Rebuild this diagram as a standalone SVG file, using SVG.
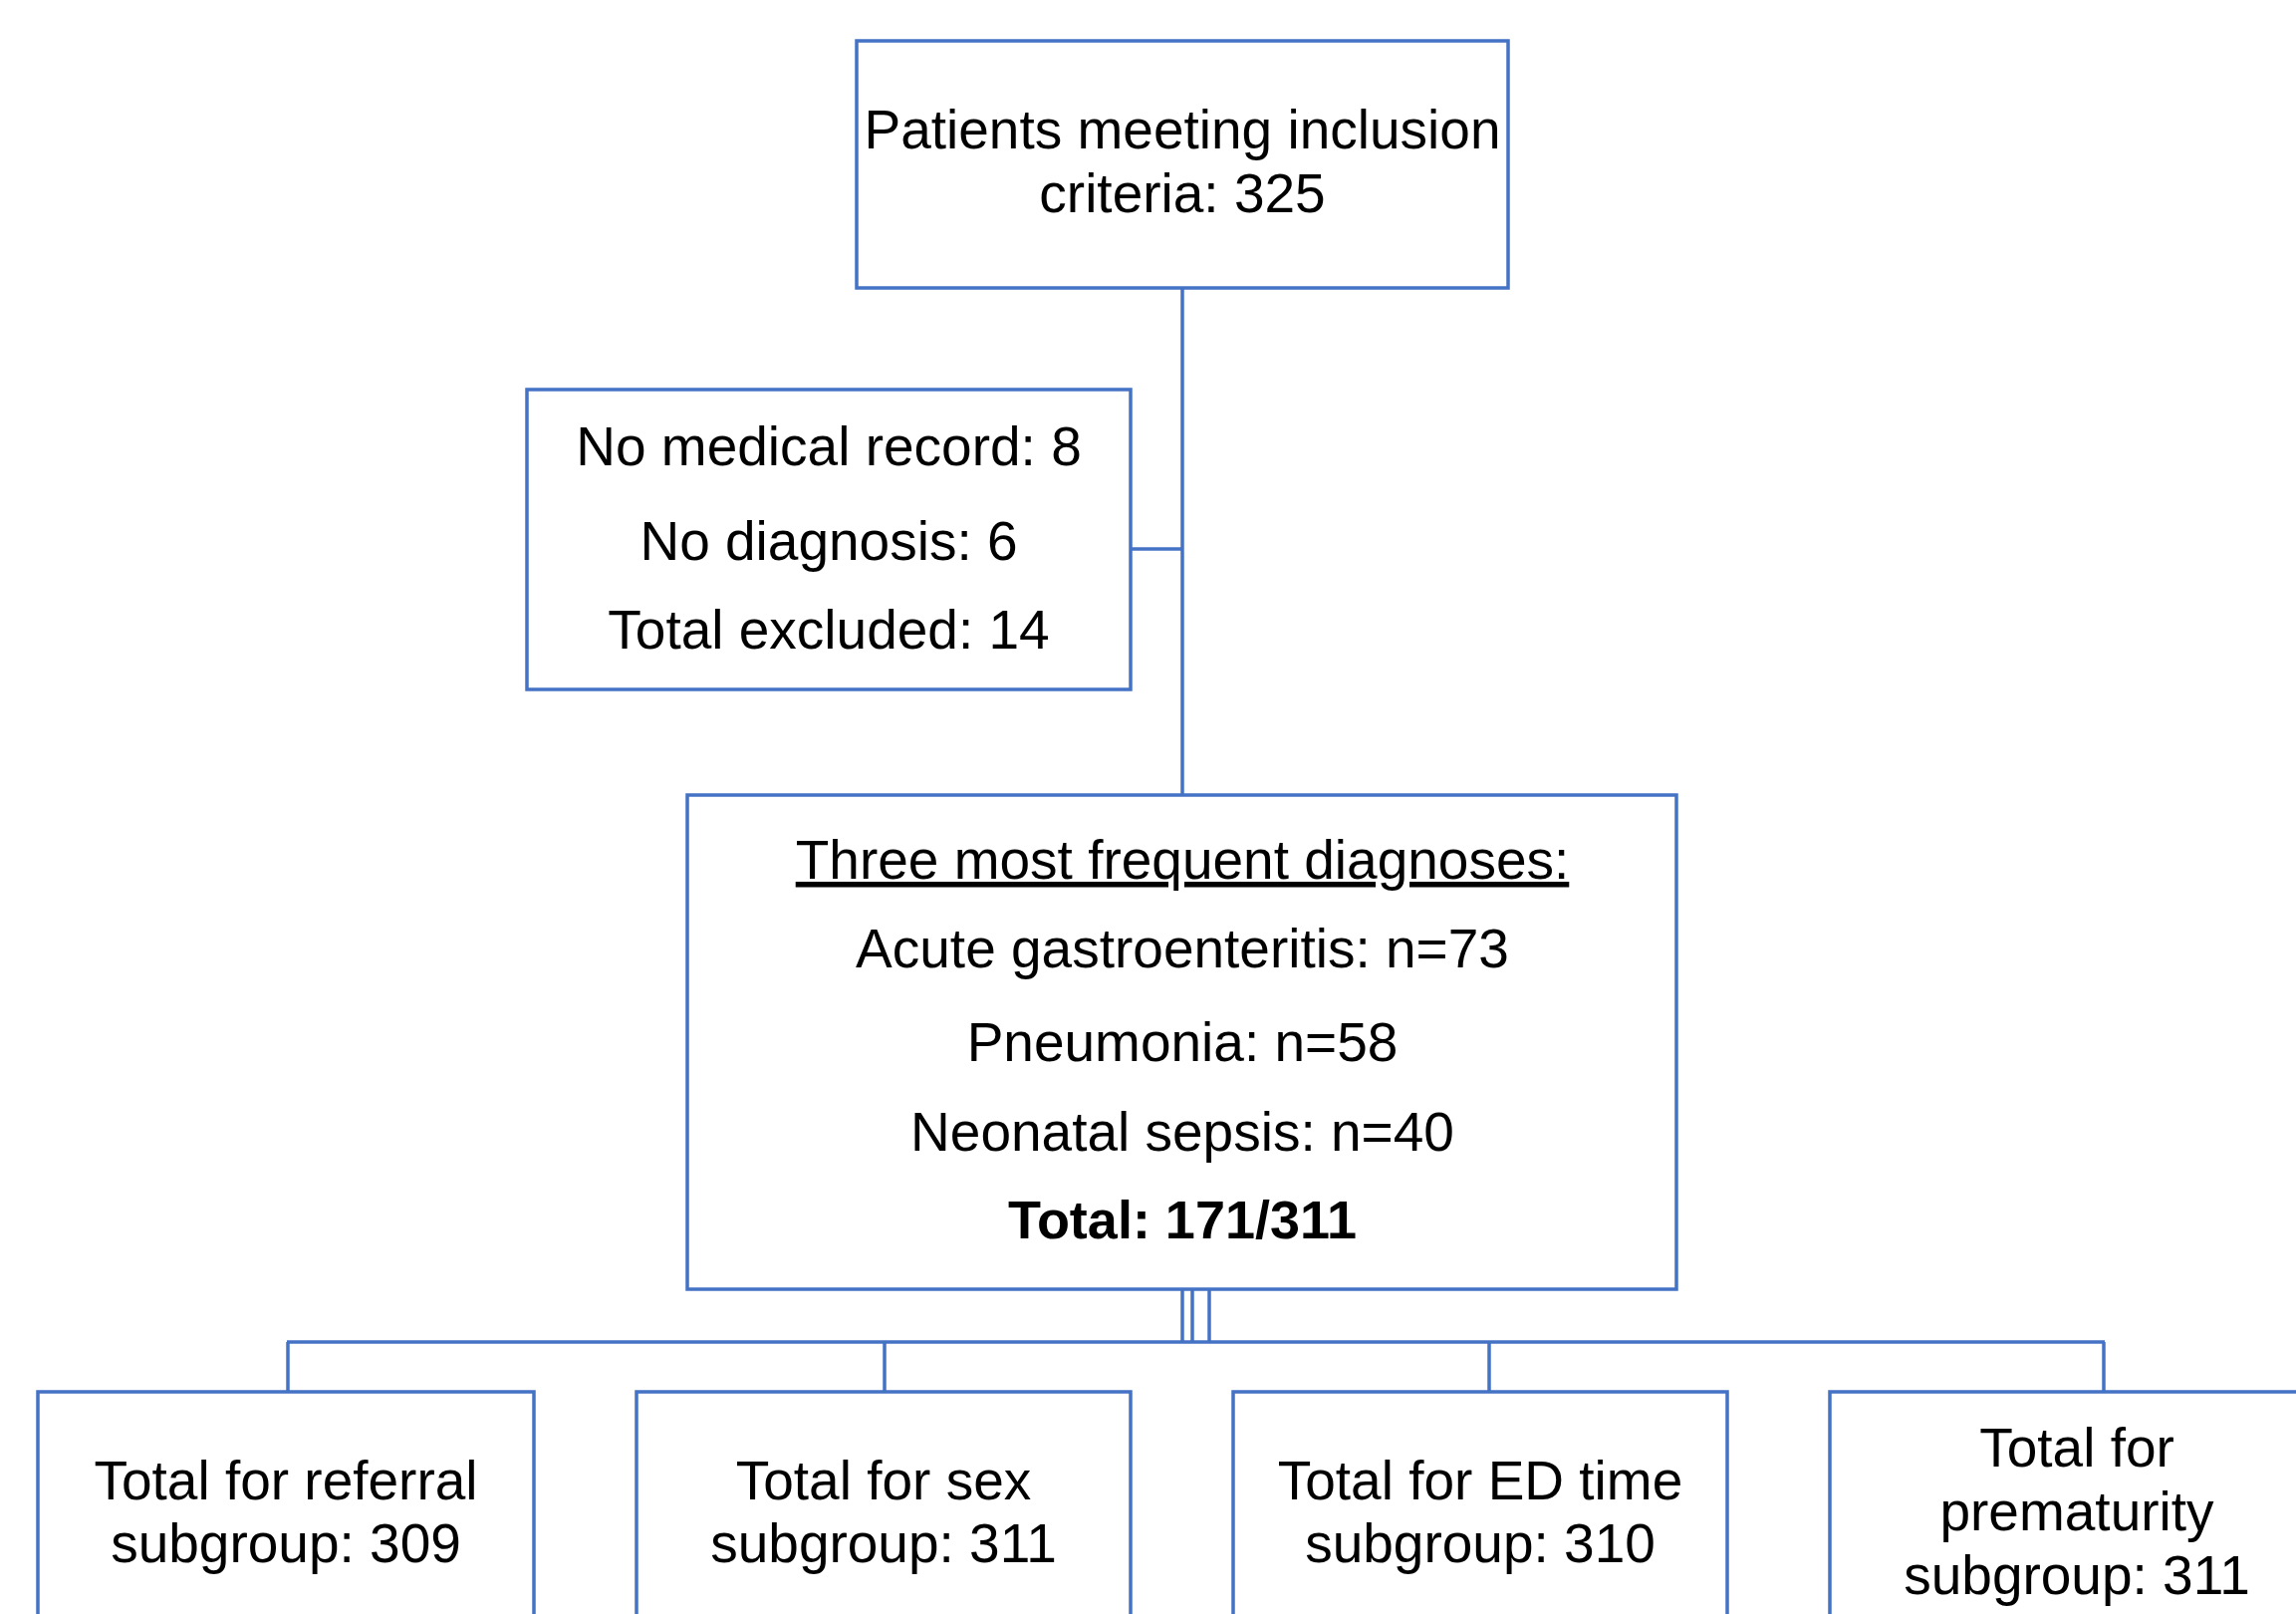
<svg xmlns="http://www.w3.org/2000/svg" width="2305" height="1620" viewBox="0 0 2305 1620">
<style>
.box{fill:#ffffff;stroke:#4472C4;stroke-width:3.5}
.ln{fill:none;stroke:#4472C4;stroke-width:3.5}
.t{font-family:"Liberation Sans",Arial,sans-serif;font-size:55px;fill:#000;text-anchor:middle}
.b{font-weight:bold;font-size:54px}
.u{text-decoration:underline}
</style>
<rect width="2305" height="1620" fill="#ffffff"/>
<g id="connectors">
<line class="ln" x1="1187" y1="290" x2="1187" y2="798"/>
<line class="ln" x1="1135" y1="551" x2="1187" y2="551"/>
<line class="ln" x1="1187" y1="1294" x2="1187" y2="1347"/>
<line class="ln" x1="1197" y1="1294" x2="1197" y2="1347"/>
<line class="ln" x1="1214" y1="1294" x2="1214" y2="1347"/>
<line class="ln" x1="288" y1="1347" x2="2113" y2="1347"/>
<line class="ln" x1="289" y1="1347" x2="289" y2="1397"/>
<line class="ln" x1="888" y1="1347" x2="888" y2="1397"/>
<line class="ln" x1="1495" y1="1347" x2="1495" y2="1397"/>
<line class="ln" x1="2112" y1="1347" x2="2112" y2="1397"/>
</g>
<g id="inclusion">
<rect class="box" x="860" y="41" width="654" height="248"/>
<text class="t" x="1187" y="149">Patients meeting inclusion</text>
<text class="t" x="1187" y="213">criteria: 325</text>
</g>
<g id="excluded">
<rect class="box" x="529" y="391" width="606" height="301"/>
<text class="t" x="832" y="467">No medical record: 8</text>
<text class="t" x="832" y="562">No diagnosis: 6</text>
<text class="t" x="832" y="651">Total excluded: 14</text>
</g>
<g id="diagnoses">
<rect class="box" x="690" y="798" width="993" height="496"/>
<text class="t u" x="1187" y="882">Three most frequent diagnoses:</text>
<text class="t" x="1187" y="971">Acute gastroenteritis: n=73</text>
<text class="t" x="1187" y="1065">Pneumonia: n=58</text>
<text class="t" x="1187" y="1155">Neonatal sepsis: n=40</text>
<text class="t b" x="1187" y="1243">Total: 171/311</text>
</g>
<g id="referral">
<rect class="box" x="38" y="1397" width="498" height="260"/>
<text class="t" x="287" y="1505">Total for referral</text>
<text class="t" x="287" y="1568">subgroup: 309</text>
</g>
<g id="sex">
<rect class="box" x="639" y="1397" width="496" height="260"/>
<text class="t" x="887" y="1505">Total for sex</text>
<text class="t" x="887" y="1568">subgroup: 311</text>
</g>
<g id="edtime">
<rect class="box" x="1238" y="1397" width="496" height="260"/>
<text class="t" x="1486" y="1505">Total for ED time</text>
<text class="t" x="1486" y="1568">subgroup: 310</text>
</g>
<g id="prematurity">
<rect class="box" x="1837" y="1397" width="500" height="260"/>
<text class="t" x="2085" y="1472">Total for</text>
<text class="t" x="2085" y="1536">prematurity</text>
<text class="t" x="2085" y="1600">subgroup: 311</text>
</g>
</svg>
